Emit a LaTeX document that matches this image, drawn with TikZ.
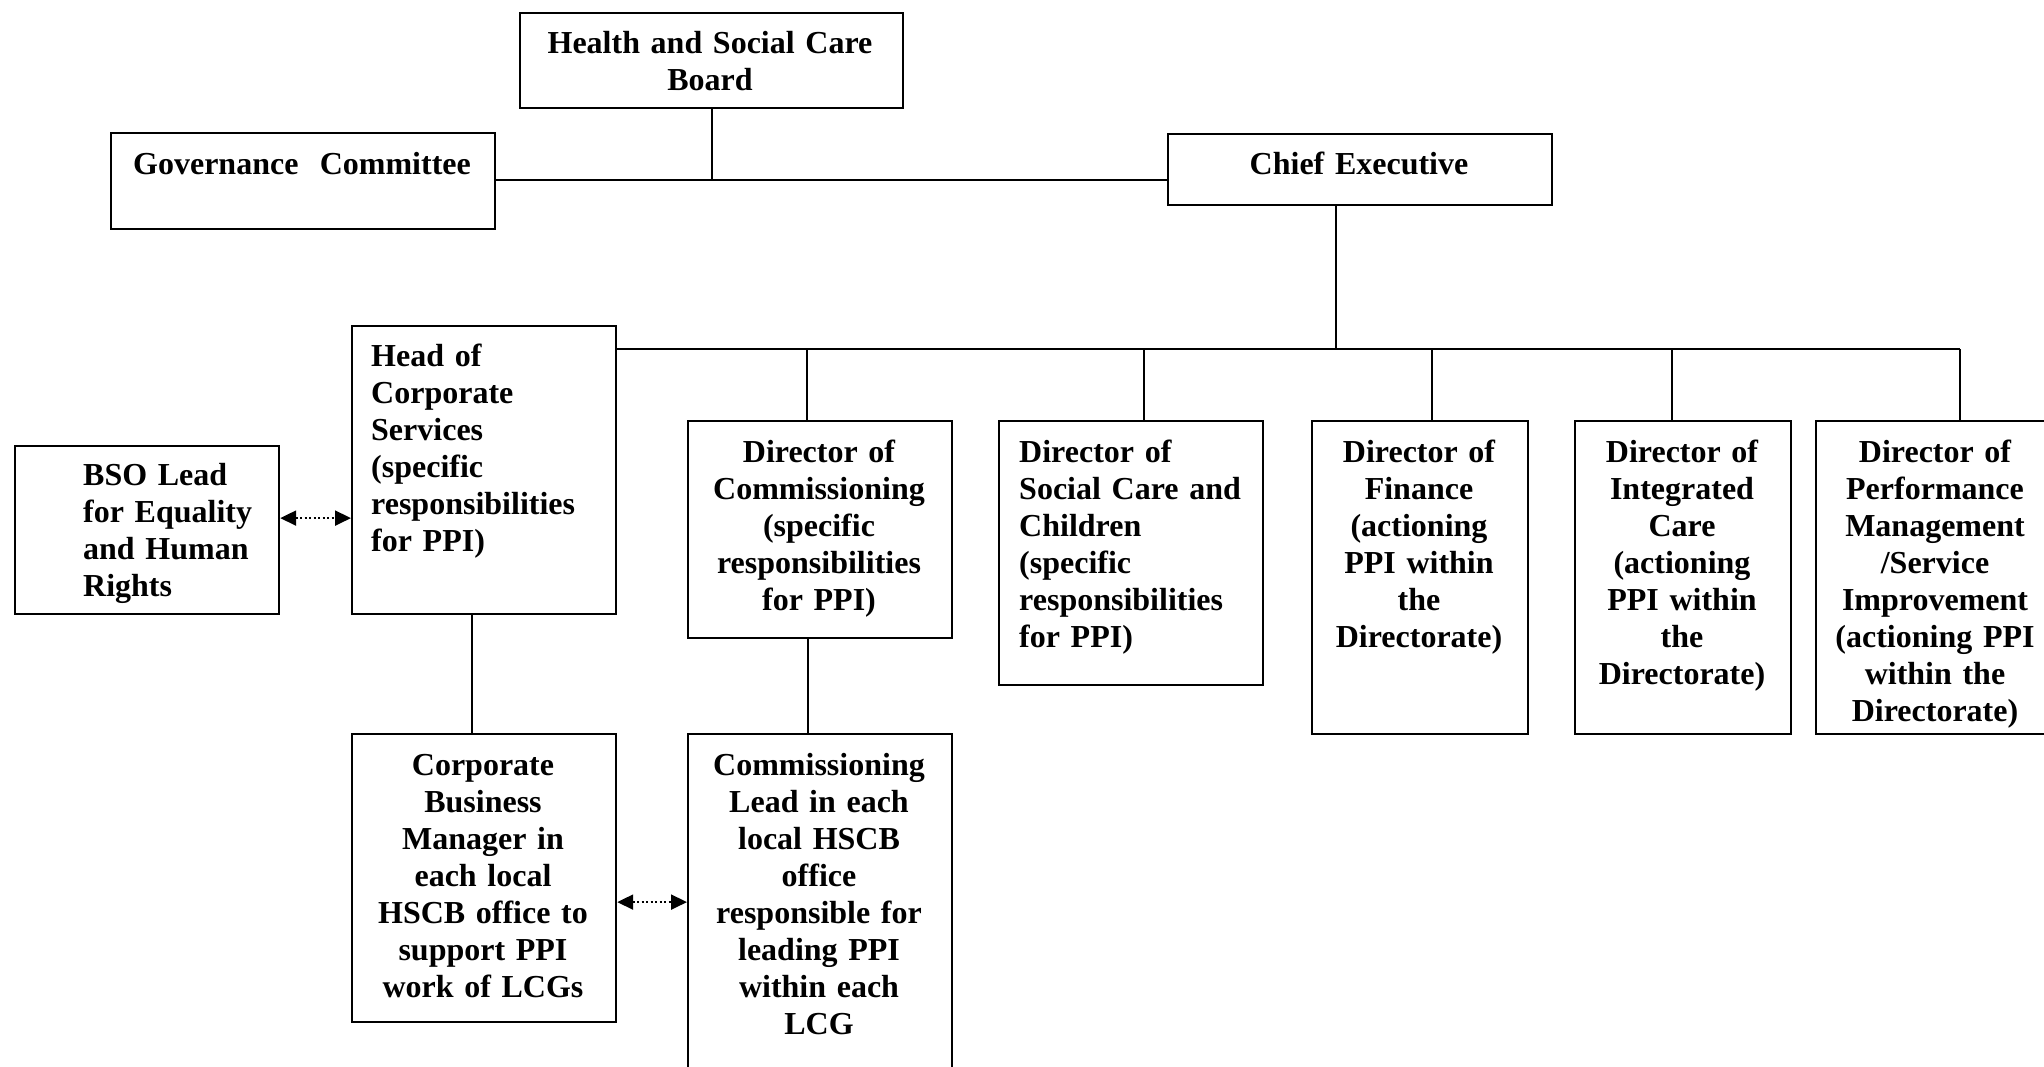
\documentclass[tikz,border=0pt]{standalone}
\usepackage{fontspec}
\setmainfont{Liberation Serif}
\usetikzlibrary{arrows.meta}
\begin{document}
\begin{tikzpicture}[x=1pt,y=-1pt,
  box/.style={draw, line width=2.2pt, inner sep=0pt, anchor=north west},
  txt/.style={inner sep=0pt, font=\fontsize{32}{37}\selectfont\bfseries},
  ctr/.style={txt, anchor=base, align=center, text width=#1},
  lft/.style={txt, anchor=base west, align=left, text width=#1},
  conn/.style={line width=2pt},
  dar/.style={line width=2pt, dash pattern=on 2pt off 2.5pt,
    {Triangle[length=16pt,width=15pt]}-{Triangle[length=16pt,width=15pt]}}]
\useasboundingbox[fill=white] (0,0) rectangle (2044,1067);

% boxes
\node[box, minimum width=383pt, minimum height=95pt] (board) at (519,12) {};
\node[box, minimum width=384pt, minimum height=96pt] (gov) at (110,132) {};
\node[box, minimum width=384pt, minimum height=71pt] (ce) at (1167,133) {};
\node[box, minimum width=264pt, minimum height=288pt] (head) at (351,325) {};
\node[box, minimum width=264pt, minimum height=168pt] (bso) at (14,445) {};
\node[box, minimum width=264pt, minimum height=217pt] (dcom) at (687,420) {};
\node[box, minimum width=264pt, minimum height=264pt] (dsc) at (998,420) {};
\node[box, minimum width=216pt, minimum height=313pt] (dfin) at (1311,420) {};
\node[box, minimum width=216pt, minimum height=313pt] (dic) at (1574,420) {};
\node[box, minimum width=240pt, minimum height=313pt] (dperf) at (1815,420) {};
\node[box, minimum width=264pt, minimum height=288pt] (cbm) at (351,733) {};
\node[box, minimum width=264pt, minimum height=370pt] (cl) at (687,733) {};

% texts
\node[ctr=380pt] (tboard) at (710,54) {Health and Social Care\\Board};
\node[ctr=380pt] (tgov) at (302,175) {Governance\ \ Committee};
\node[ctr=380pt] (tce) at (1359,175) {Chief Executive};
\node[lft=240pt] (thead) at (371,366) {Head of\\Corporate\\Services\\(specific\\responsibilities\\for PPI)};
\node[lft=190pt] (tbso) at (83,485) {BSO Lead\\for Equality\\and Human\\Rights};
\node[ctr=260pt] (tdcom) at (819,462) {Director of\\Commissioning\\(specific\\responsibilities\\for PPI)};
\node[lft=240pt] (tdsc) at (1019,462) {Director of\\Social Care and\\Children\\(specific\\responsibilities\\for PPI)};
\node[ctr=214pt] (tdfin) at (1419,462) {Director of\\Finance\\(actioning\\PPI within\\the\\Directorate)};
\node[ctr=214pt] (tdic) at (1682,462) {Director of\\Integrated\\Care\\(actioning\\PPI within\\the\\Directorate)};
\node[ctr=238pt] (tdperf) at (1935,462) {Director of\\Performance\\Management\\/Service\\Improvement\\(actioning PPI\\within the\\Directorate)};
\node[ctr=260pt] (tcbm) at (483,775) {Corporate\\Business\\Manager in\\each local\\HSCB office to\\support PPI\\work of LCGs};
\node[ctr=260pt] (tcl) at (819,775) {Commissioning\\Lead in each\\local HSCB\\office\\responsible for\\leading PPI\\within each\\LCG};

% connectors
\coordinate (top) at (0,180);
\coordinate (bus) at (0,349);
\draw[conn] (board.south) -- (board.south |- top);
\draw[conn] (gov.east |- top) -- (ce.west |- top);
\draw[conn] ([xshift=-24pt]ce.south) -- ([xshift=-24pt]ce.south |- bus);
\draw[conn] (head.east |- bus) -- ([xshift=24pt]dperf.north |- bus);
\draw[conn] ([xshift=-13pt]dcom.north) -- ([xshift=-13pt]dcom.north |- bus);
\draw[conn] ([xshift=13pt]dsc.north) -- ([xshift=13pt]dsc.north |- bus);
\draw[conn] ([xshift=12pt]dfin.north) -- ([xshift=12pt]dfin.north |- bus);
\draw[conn] ([xshift=-11pt]dic.north) -- ([xshift=-11pt]dic.north |- bus);
\draw[conn] ([xshift=24pt]dperf.north) -- ([xshift=24pt]dperf.north |- bus);
\draw[conn] ([xshift=-12pt]head.south) -- ([xshift=-12pt]cbm.north);
\draw[conn] ([xshift=-12pt]dcom.south) -- ([xshift=-12pt]cl.north);
\draw[dar] ([yshift=12pt]bso.east) -- ([yshift=12pt]bso.east -| head.west);
\draw[dar] ([yshift=-24pt]cbm.east) -- ([yshift=-24pt]cbm.east -| cl.west);
\end{tikzpicture}
\end{document}
